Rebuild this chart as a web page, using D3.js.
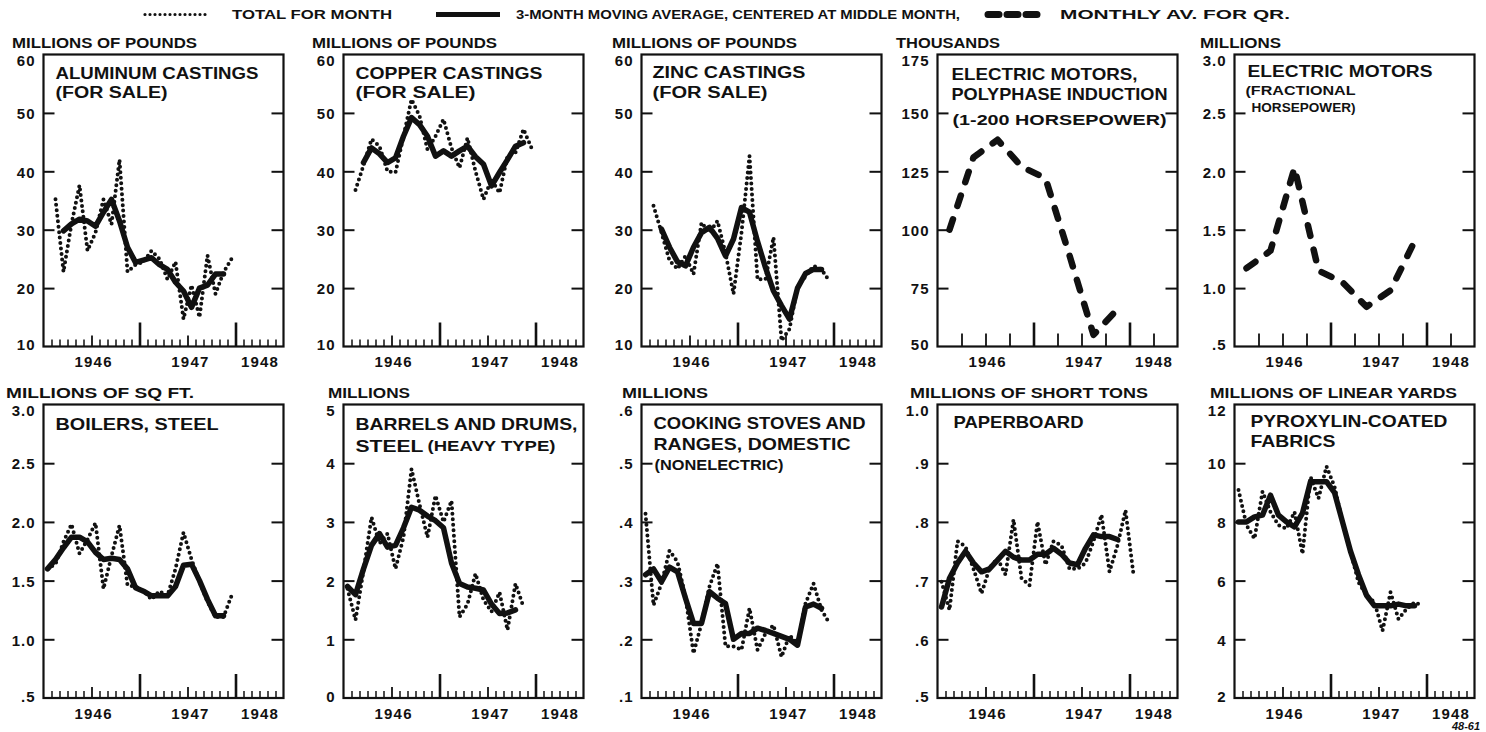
<!DOCTYPE html>
<html><head><meta charset="utf-8">
<script src="https://cdn.jsdelivr.net/npm/d3@7"></script>
<style>
body{margin:0;background:#fff;}
svg{display:block;}
text{font-family:"Liberation Sans",Arial,sans-serif;font-weight:bold;fill:#111;}
</style></head><body>
<svg id="chart" width="1486" height="732"></svg>
<script>
// ---------------- DATA ----------------
const legendLabels = ["TOTAL FOR MONTH", "3-MONTH MOVING AVERAGE, CENTERED AT MIDDLE MONTH,", "MONTHLY AV. FOR QR."];
const yearLabels = ["1946", "1947", "1948"];
// month index: 0 = Jan 1946 ... 23 = Dec 1947, 24 = Jan 1948

// Aluminum castings (for sale), millions of pounds
const aluminumMonthStart = 1;
const aluminumMonthly = [35.2, 22.8, 31, 37.6, 26.4, 29.5, 35.2, 30.9, 42, 22.8, 24, 24.5, 26.4, 25, 21.5, 24.5, 14.7, 20.5, 15, 25.6, 19, 22.7, 25];
const aluminumAvgStart = 2;
const aluminumAvg = [29.8, 31, 31.8, 31.5, 30.6, 33, 35.2, 31.5, 27, 24.4, 24.8, 25.2, 24, 23.2, 21, 19.5, 16.7, 20, 20.5, 22.4, 22.4];

// Copper castings (for sale), millions of pounds
const copperMonthStart = 1;
const copperMonthly = [36.8, 41, 45.5, 44.3, 40, 39.8, 46, 52.3, 49.5, 43.7, 46, 48.9, 44, 40.6, 45.7, 40, 35.2, 38.6, 36.3, 42.6, 43.2, 47.2, 44];
const copperAvgStart = 2;
const copperAvg = [41.5, 44, 43, 41.5, 42.3, 46, 49.2, 48, 46, 42.6, 43.5, 42.6, 43.5, 44.3, 42.5, 41.2, 37.5, 39.8, 42, 44.3, 44.9];

// Zinc castings (for sale), millions of pounds
const zincMonthStart = 1;
const zincMonthly = [34.1, 29.5, 24.7, 23.3, 25.5, 22.4, 31.2, 29.5, 31.5, 26, 19, 29.5, 42.6, 21.5, 21.5, 28.7, 11, 13, 20.2, 22, 23.8, 23.2, 21.2];
const zincAvgStart = 2;
const zincAvg = [30.1, 27, 24.5, 23.8, 27, 29.5, 30.4, 28.5, 25.5, 28.4, 33.8, 33, 28, 23.5, 19.5, 17, 14.7, 20, 22.5, 23.2, 23.2];

// Electric motors, polyphase induction, thousands (monthly av. for quarter)
const polyphaseQuarterly = [100, 131, 138.5, 127, 122, 89, 55, 66];
// Electric motors, fractional horsepower, millions (monthly av. for quarter)
const fractionalQuarterly = [1.17, 1.32, 2.03, 1.15, 1.05, 0.84, 0.98, 1.40];

// Boilers, steel, millions of sq ft
const boilersMonthStart = 0;
const boilersMonthly = [1.6, 1.64, 1.83, 1.98, 1.73, 1.85, 1.99, 1.43, 1.71, 1.97, 1.46, 1.45, 1.41, 1.34, 1.41, 1.37, 1.6, 1.91, 1.68, 1.49, 1.32, 1.19, 1.19, 1.37];
const boilersAvgStart = 0;
const boilersAvg = [1.6, 1.68, 1.78, 1.87, 1.87, 1.83, 1.74, 1.68, 1.69, 1.68, 1.6, 1.44, 1.41, 1.37, 1.37, 1.37, 1.45, 1.63, 1.64, 1.5, 1.34, 1.2, 1.2];

// Barrels and drums, steel (heavy type), millions
const barrelsMonthStart = 0;
const barrelsMonthly = [1.86, 1.33, 2.17, 3.08, 2.63, 2.8, 2.2, 2.74, 3.9, 3.3, 2.74, 3.45, 3.0, 3.36, 1.38, 1.6, 2.12, 1.67, 1.47, 1.8, 1.16, 1.95, 1.55];
const barrelsAvgStart = 0;
const barrelsAvg = [1.9, 1.76, 2.2, 2.6, 2.8, 2.57, 2.6, 2.9, 3.25, 3.2, 3.1, 3.02, 2.9, 2.3, 1.95, 1.89, 1.87, 1.84, 1.6, 1.44, 1.45, 1.5];

// Cooking stoves and ranges, domestic (nonelectric), millions
const stovesMonthStart = 0;
const stovesMonthly = [.414, .258, .295, .351, .332, .272, .176, .227, .29, .329, .188, .188, .182, .253, .182, .21, .224, .17, .207, .193, .261, .295, .25, .227];
const stovesAvgStart = 0;
const stovesAvg = [.31, .32, .298, .323, .315, .27, .227, .227, .281, .27, .261, .2, .21, .21, .219, .215, .21, .205, .2, .19, .255, .26, .253];

// Paperboard, millions of short tons
const paperMonthStart = 0;
const paperMonthly = [.698, .65, .767, .758, .72, .678, .721, .738, .71, .804, .704, .692, .8, .727, .767, .76, .72, .72, .73, .767, .812, .715, .76, .82, .71];
const paperAvgStart = 0;
const paperAvg = [.655, .704, .73, .75, .73, .715, .72, .735, .75, .74, .735, .735, .745, .745, .755, .745, .73, .727, .755, .778, .775, .775, .77];

// Pyroxylin-coated fabrics, millions of linear yards
const pyroxMonthStart = 0;
const pyroxMonthly = [9.09, 7.89, 7.43, 9.03, 8.34, 7.89, 7.77, 8.34, 6.91, 9.54, 8.8, 9.89, 9.2, 8.0, 7.0, 5.94, 5.5, 5.26, 4.29, 5.6, 4.69, 5.03, 5.26, 5.14];
const pyroxAvgStart = 0;
const pyroxAvg = [8.0, 8.0, 8.17, 8.23, 8.91, 8.23, 8.0, 7.83, 8.3, 9.37, 9.37, 9.37, 9.0, 8.0, 7.0, 6.2, 5.5, 5.14, 5.14, 5.14, 5.2, 5.14, 5.14];

// y-axis tick values and labels
const poundsTicks = [10, 20, 30, 40, 50, 60];
const poundsLabels = ["10", "20", "30", "40", "50", "60"];
const polyTicks = [50, 75, 100, 125, 150, 175];
const polyLabels = ["50", "75", "100", "125", "150", "175"];
const halfTicks = [0.5, 1, 1.5, 2, 2.5, 3];
const halfLabels = [".5", "1.0", "1.5", "2.0", "2.5", "3.0"];
const barrelTicks = [0, 1, 2, 3, 4, 5];
const barrelLabels = ["0", "1", "2", "3", "4", "5"];
const stoveTicks = [0.1, 0.2, 0.3, 0.4, 0.5, 0.6];
const stoveLabels = [".1", ".2", ".3", ".4", ".5", ".6"];
const paperTicks = [0.5, 0.6, 0.7, 0.8, 0.9, 1.0];
const paperLabels = [".5", ".6", ".7", ".8", ".9", "1.0"];
const pyroxTicks = [2, 4, 6, 8, 10, 12];
const pyroxLabels = ["2", "4", "6", "8", "10", "12"];

// ---------------- LAYOUT ----------------
const svg = d3.select("#chart");
const colLeft = [43.5, 343.5, 641.5, 937.5, 1234.5];
const boxW = 240;
const rowTop = [54.5, 404.5];
const rowBottom = [346.5, 698];

const panels = [
  {c:0, r:0, unit:["MILLIONS OF POUNDS", 12, 185], ticks:poundsTicks, labels:poundsLabels,
   title:[["ALUMINUM CASTINGS",12,79,203,16.5],["(FOR SALE)",12,98,112,16]],
   monthly:aluminumMonthly, mStart:aluminumMonthStart, avg:aluminumAvg, aStart:aluminumAvgStart},
  {c:1, r:0, unit:["MILLIONS OF POUNDS", 312, 185], ticks:poundsTicks, labels:poundsLabels,
   title:[["COPPER CASTINGS",12,79,187,16.5],["(FOR SALE)",12,98,120,16]],
   monthly:copperMonthly, mStart:copperMonthStart, avg:copperAvg, aStart:copperAvgStart},
  {c:2, r:0, unit:["MILLIONS OF POUNDS", 612, 185], ticks:poundsTicks, labels:poundsLabels,
   title:[["ZINC CASTINGS",11,78,153,16.5],["(FOR SALE)",11,98,115,16]],
   monthly:zincMonthly, mStart:zincMonthStart, avg:zincAvg, aStart:zincAvgStart},
  {c:3, r:0, unit:["THOUSANDS", 896, 104], ticks:polyTicks, labels:polyLabels, quarterly:polyphaseQuarterly,
   title:[["ELECTRIC MOTORS,",14,80,186,16.5],["POLYPHASE INDUCTION",14,100,216,16.5],["(1-200 HORSEPOWER)",15,125,214,15]]},
  {c:4, r:0, unit:["MILLIONS", 1200, 81], ticks:halfTicks, labels:halfLabels, quarterly:fractionalQuarterly,
   title:[["ELECTRIC MOTORS",13,77,185,16.5],["(FRACTIONAL",11,95,110,13.5],["HORSEPOWER)",17,112,104,13.5]]},
  {c:0, r:1, unit:["MILLIONS OF SQ FT.", 6, 188], ticks:halfTicks, labels:halfLabels,
   title:[["BOILERS, STEEL",12,430,163,16.5]],
   monthly:boilersMonthly, mStart:boilersMonthStart, avg:boilersAvg, aStart:boilersAvgStart},
  {c:1, r:1, unit:["MILLIONS", 328, 82], ticks:barrelTicks, labels:barrelLabels,
   title:[["BARRELS AND DRUMS,",12,430,222,16.5],["STEEL",12,452,68,16.5],["(HEAVY TYPE)",84,451,128,14]],
   monthly:barrelsMonthly, mStart:barrelsMonthStart, avg:barrelsAvg, aStart:barrelsAvgStart},
  {c:2, r:1, unit:["MILLIONS", 622, 86], ticks:stoveTicks, labels:stoveLabels,
   title:[["COOKING STOVES AND",12,429,212,16.5],["RANGES, DOMESTIC",12,450,197,16.5],["(NONELECTRIC)",13,470,129,14]],
   monthly:stovesMonthly, mStart:stovesMonthStart, avg:stovesAvg, aStart:stovesAvgStart},
  {c:3, r:1, unit:["MILLIONS OF SHORT TONS", 910, 238], ticks:paperTicks, labels:paperLabels,
   title:[["PAPERBOARD",16,428,130,16.5]],
   monthly:paperMonthly, mStart:paperMonthStart, avg:paperAvg, aStart:paperAvgStart},
  {c:4, r:1, unit:["MILLIONS OF LINEAR YARDS", 1210, 247], ticks:pyroxTicks, labels:pyroxLabels,
   title:[["PYROXYLIN-COATED",16,427,197,16.5],["FABRICS",16,447,85,16.5]],
   monthly:pyroxMonthly, mStart:pyroxMonthStart, avg:pyroxAvg, aStart:pyroxAvgStart}
];

// ---------------- LEGEND ----------------
const legend = svg.append("g");
function sampleLine(x1, x2, y){ return d3.line()([[x1,y],[x2,y]]); }
legend.append("path").attr("d", sampleLine(145, 206, 14.5)).attr("fill","none").attr("stroke","#111")
  .attr("stroke-width",3.2).attr("stroke-linecap","round").attr("stroke-dasharray","0 5");
legend.append("text").attr("x",232).attr("y",19).attr("font-size",13).attr("textLength",160)
  .attr("lengthAdjust","spacingAndGlyphs").text(legendLabels[0]);
legend.append("path").attr("d", sampleLine(436, 500, 14.5)).attr("fill","none").attr("stroke","#111")
  .attr("stroke-width",5);
legend.append("text").attr("x",516).attr("y",19).attr("font-size",13).attr("textLength",444)
  .attr("lengthAdjust","spacingAndGlyphs").text(legendLabels[1]);
legend.append("path").attr("d", sampleLine(988, 1040, 14.5)).attr("fill","none").attr("stroke","#111")
  .attr("stroke-width",7).attr("stroke-linecap","round").attr("stroke-dasharray","11 8");
legend.append("text").attr("x",1060).attr("y",19).attr("font-size",13).attr("textLength",230)
  .attr("lengthAdjust","spacingAndGlyphs").text(legendLabels[2]);

// ---------------- PANELS ----------------
panels.forEach(p => {
  const L = colLeft[p.c], R = L + boxW, T = rowTop[p.r], B = rowBottom[p.r];
  const x = d3.scaleLinear().domain([0, 30]).range([L, R]);
  const y = d3.scaleLinear().domain([p.ticks[0], p.ticks[p.ticks.length-1]]).range([B, T]);
  const g = svg.append("g");

  // unit label
  g.append("text").attr("x", p.unit[1]).attr("y", T - 7).attr("font-size", 14.5)
    .attr("textLength", p.unit[2]).attr("lengthAdjust","spacingAndGlyphs").text(p.unit[0]);

  // y axes (ticks pointing inward on both sides)
  const inner = p.ticks.slice(1, -1);
  const last = p.ticks.length - 1;
  const yl = g.append("g").attr("transform", `translate(${L},0)`)
    .call(d3.axisLeft(y).tickValues(p.ticks).tickSize(0).tickPadding(8).tickFormat((d,i)=>p.labels[i]));
  yl.select(".domain").remove();
  yl.selectAll("text").attr("font-size",15).attr("font-family","Liberation Sans, Arial, sans-serif")
    .attr("font-weight","bold").attr("fill","#111").attr("letter-spacing",1)
    .attr("dy",(d,i)=> i===last ? "0.75em" : (i===0 ? "0.2em" : "0.38em"));
  const ylt = g.append("g").attr("transform", `translate(${L},0)`)
    .call(d3.axisLeft(y).tickValues(inner).tickSize(-11).tickFormat(""));
  ylt.select(".domain").remove();
  ylt.selectAll("line").attr("stroke","#111").attr("stroke-width",2);
  const yr = g.append("g").attr("transform", `translate(${R},0)`)
    .call(d3.axisRight(y).tickValues(inner).tickSize(-12).tickFormat(""));
  yr.select(".domain").remove();
  yr.selectAll("line").attr("stroke","#111").attr("stroke-width",2);

  // x ticks
  const tickGroups = p.quarterly
    ? [[[3,6,9,15,18,21,27],13,1.8],[[12,24],24,2.6]]
    : [[d3.range(1,30).filter(m=>m%6!==0),7,1.5],[[6,18],11,1.8],[[12,24],24,2.6]];
  tickGroups.forEach(([vals,len,sw]) => {
    const ax = g.append("g").attr("transform", `translate(0,${B})`)
      .call(d3.axisBottom(x).tickValues(vals).tickSize(-len).tickFormat(""));
    ax.select(".domain").remove();
    ax.selectAll("line").attr("stroke","#111").attr("stroke-width",sw);
  });

  // year labels
  const xl = g.append("g").attr("transform", `translate(0,${B})`)
    .call(d3.axisBottom(x).tickValues([6.2, 18.3, 27]).tickSize(0).tickPadding(10).tickFormat((d,i)=>yearLabels[i]));
  xl.select(".domain").remove();
  xl.selectAll("text").attr("font-size",15).attr("font-family","Liberation Sans, Arial, sans-serif")
    .attr("font-weight","bold").attr("fill","#111").attr("letter-spacing",1.2);

  // box
  g.append("rect").attr("x",L).attr("y",T).attr("width",R-L).attr("height",B-T)
    .attr("fill","none").attr("stroke","#111").attr("stroke-width",2.2);

  // title
  p.title.forEach(([t, dx, by, w, fs]) => {
    g.append("text").attr("x", L + dx).attr("y", by).attr("font-size", fs)
      .attr("textLength", w).attr("lengthAdjust","spacingAndGlyphs").text(t);
  });

  const line = d3.line().x(d => x(d[0])).y(d => y(d[1]));
  if (p.quarterly) {
    const pts = p.quarterly.map((v,i) => [i*3 + 1.5, v]);
    g.append("path").attr("d", line(pts)).attr("fill","none").attr("stroke","#111")
      .attr("stroke-width",6.5).attr("stroke-linecap","round").attr("stroke-linejoin","round")
      .attr("stroke-dasharray","11 14");
  } else {
    const mPts = p.monthly.map((v,i) => [p.mStart + i + 0.5, v]);
    const aPts = p.avg.map((v,i) => [p.aStart + i + 0.5, v]);
    g.append("path").attr("d", line(aPts)).attr("fill","none").attr("stroke","#111")
      .attr("stroke-width",5.5).attr("stroke-linejoin","round").attr("stroke-linecap","round");
    g.append("path").attr("d", line(mPts)).attr("fill","none").attr("stroke","#111")
      .attr("stroke-width",4).attr("stroke-linecap","round").attr("stroke-dasharray","0 5.5");
  }
});

svg.append("text").attr("x",1452).attr("y",730).attr("font-size",10).attr("font-style","italic")
  .attr("textLength",28).attr("lengthAdjust","spacingAndGlyphs").text("48-61");
</script></body></html>
